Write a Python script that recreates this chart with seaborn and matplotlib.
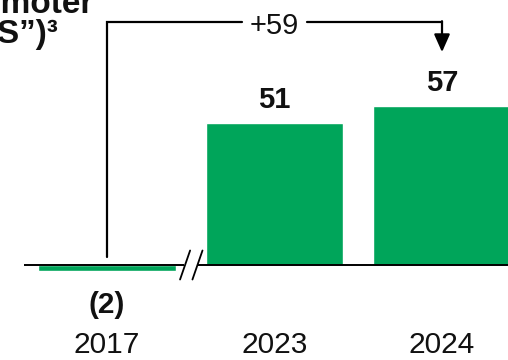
import matplotlib
matplotlib.use("Agg")
import matplotlib.pyplot as plt
import seaborn as sns
import pandas as pd

# Net Promoter Score by year
years = ["2017", "2023", "2024"]
nps = [-2, 51, 57]

GREEN = "#00A55A"
INK = "#111111"

sns.set_theme(style="white")
plt.rcParams["font.family"] = ["Liberation Sans", "DejaVu Sans"]

df = pd.DataFrame({"year": years, "nps": nps})

fig = plt.figure(figsize=(5.08, 3.6), dpi=100)
ax = fig.add_axes([0, 0, 1, 1])

sns.barplot(data=df, x="year", y="nps", order=years, color=GREEN,
            saturation=1, width=0.82, ax=ax)

ax.set_xlim(-0.639, 2.394)
ax.set_ylim(-34.05, 94.98)
ax.set_xlabel("")
ax.set_ylabel("")
ax.set_xticks([])
ax.set_yticks([])
for s in ax.spines.values():
    s.set_visible(False)

# baseline with a scale break between 2017 and 2023
ax.plot([-0.496, 0.462], [0, 0], color="black", lw=1.4, zorder=5,
        solid_capstyle="butt")
ax.plot([0.538, 2.5], [0, 0], color="black", lw=1.4, zorder=5,
        solid_capstyle="butt")
for cx in (0.466, 0.540):
    ax.plot([cx - 0.03, cx + 0.03], [-5.2, 5.2], color="black", lw=1.3,
            zorder=6)

# value labels
for i, v in enumerate(nps):
    if v < 0:
        ax.annotate(f"({abs(v)})", (i, v), xytext=(0, -30.5),
                    textcoords="offset points", ha="center", va="baseline",
                    fontsize=21.5, fontweight="bold", color=INK)
    else:
        ax.annotate(f"{v}", (i, v), xytext=(0, 10.5),
                    textcoords="offset points", ha="center", va="baseline",
                    fontsize=21, fontweight="bold", color=INK)

# year labels under the axis
xt = ax.get_xaxis_transform()
for i, y in enumerate(years):
    ax.text(i, 0.019, y, transform=xt, ha="center", va="baseline",
            fontsize=21.5, color=INK)

# change bracket from 2017 to 2024
change = nps[-1] - nps[0]
top = 87.1
ax.plot([0, 0, 0.806], [2.8, top, top], color="black", lw=1.6,
        solid_joinstyle="miter", zorder=4)
ax.plot([1.194, 2.0], [top, top], color="black", lw=1.6, zorder=4)
ax.annotate("", xy=(2.0, 76.3), xytext=(2.0, top + 0.28),
            arrowprops=dict(arrowstyle="-|>,head_length=0.9,head_width=0.4",
                            color="black", lw=1.6, shrinkA=0, shrinkB=0))
ax.text(1.0, 82.8, f"+{change}", ha="center", va="baseline",
        fontsize=21, color=INK)

# title, partly cut off at the top-left
fig.text(93, 347, "Net Promoter", transform=None, ha="right",
         va="baseline", fontsize=24, fontweight="bold", color=INK)
fig.text(58, 317, "Score (\u201cNPS\u201d)\u00b3", transform=None, ha="right",
         va="baseline", fontsize=24, fontweight="bold", color=INK)

fig.savefig("out.png", dpi=100)
